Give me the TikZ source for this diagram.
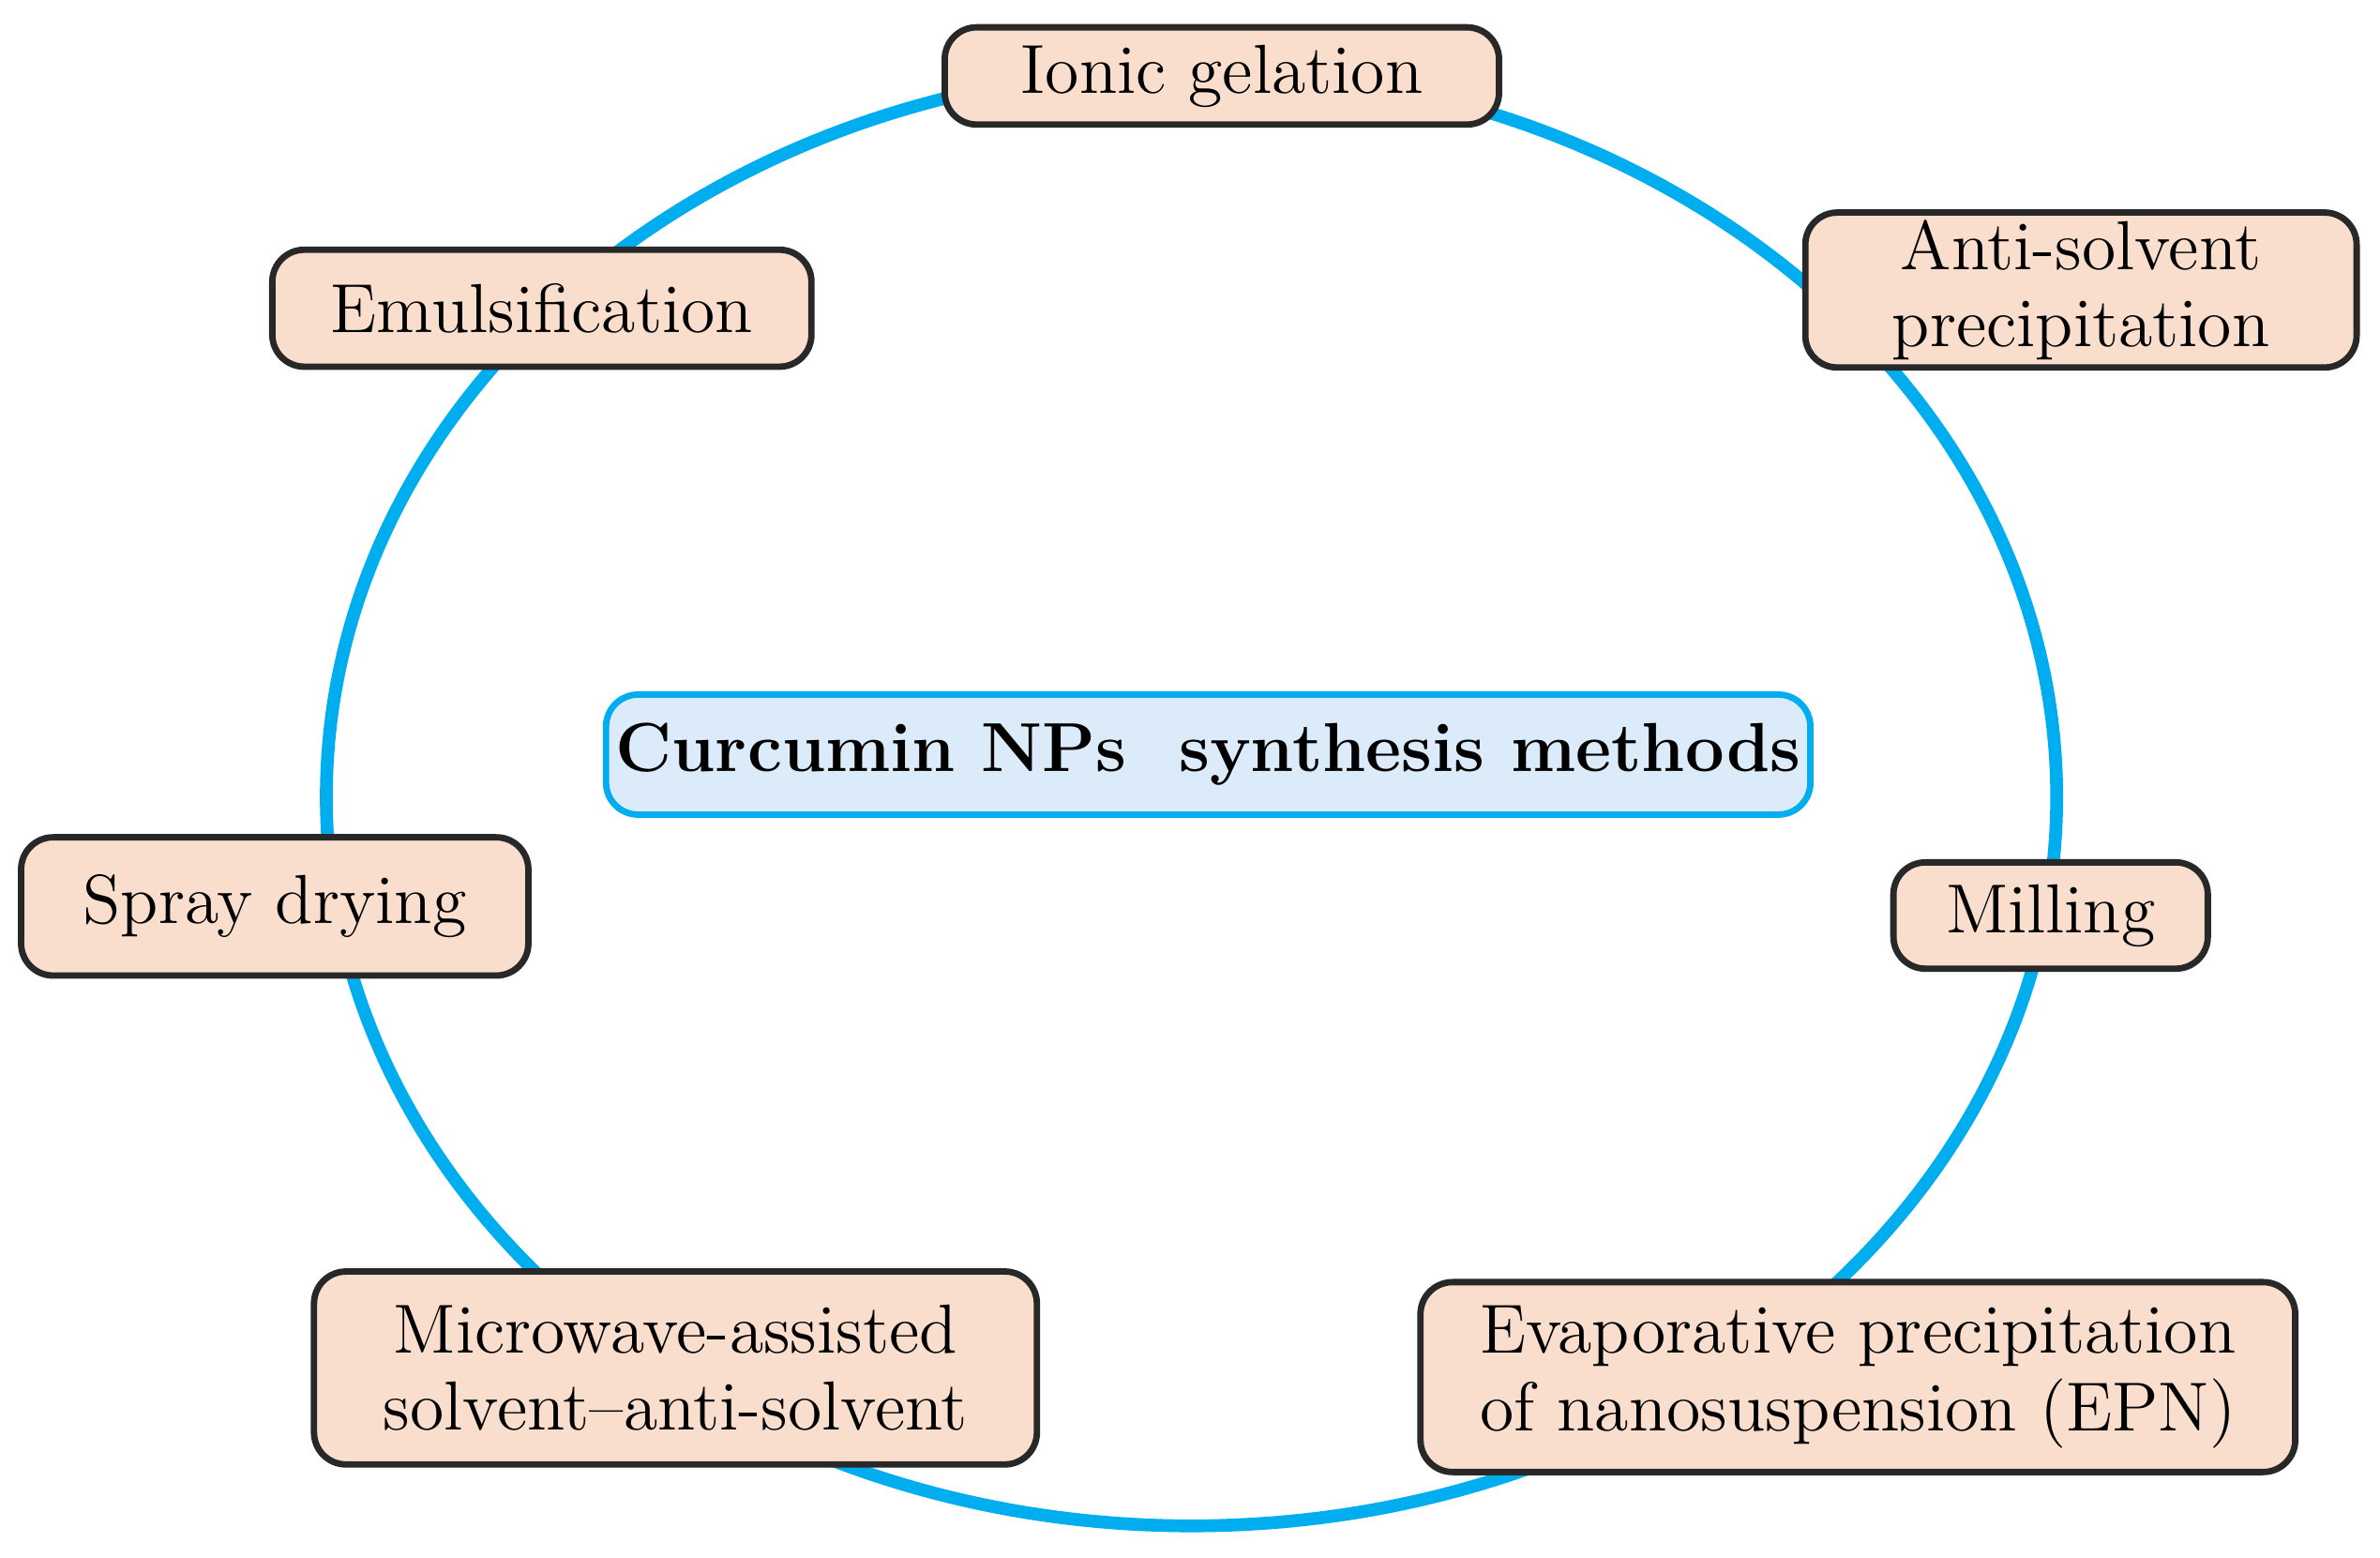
\documentclass[tikz,border=0pt]{standalone}
\usetikzlibrary{shapes.geometric}
\definecolor{ring}{RGB}{0,174,239}
\definecolor{peach}{RGB}{250,222,205}
\definecolor{pale}{RGB}{220,235,250}
\definecolor{edge}{RGB}{40,40,40}
\begin{document}
\begin{tikzpicture}[x=0.01cm,y=-0.01cm,
  m/.style={draw=edge,line width=1.2pt,fill=peach,rounded corners=6pt,inner sep=0pt,align=center,font=\fontsize{13}{14.5}\selectfont},
  c/.style={draw=ring,line width=1.2pt,fill=pale,rounded corners=6pt,inner sep=0pt,font=\fontsize{13}{15}\selectfont\bfseries}]
\useasboundingbox (0,0) rectangle (1568,1026);
\draw[ring,line width=2.4pt] (785,525) ellipse [x radius=570, y radius=-480];
\node[m,minimum width=3.65cm,minimum height=0.64cm] (ig) at (805,50) {Ionic gelation};
\node[m,minimum width=3.55cm,minimum height=0.77cm] (em) at (357,203) {Emulsification};
\node[m,minimum width=3.63cm,minimum height=1.02cm] (as) at (1371,191) {Anti-solvent\\precipitation};
\node[c,minimum width=7.93cm,minimum height=0.79cm] (cu) at (796,497) {Curcumin NPs\ \ synthesis methods};
\node[m,minimum width=3.34cm,minimum height=0.91cm] (sd) at (181,597) {Spray drying};
\node[m,minimum width=2.07cm,minimum height=0.70cm] (mi) at (1351,603) {Milling};
\node[m,minimum width=4.76cm,minimum height=1.27cm] (mw) at (445,901) {Microwave-assisted\\solvent--anti-solvent};
\node[m,minimum width=5.76cm,minimum height=1.25cm] (ep) at (1224,907) {Evaporative precipitation\\of nanosuspension (EPN)};
\end{tikzpicture}
\end{document}
